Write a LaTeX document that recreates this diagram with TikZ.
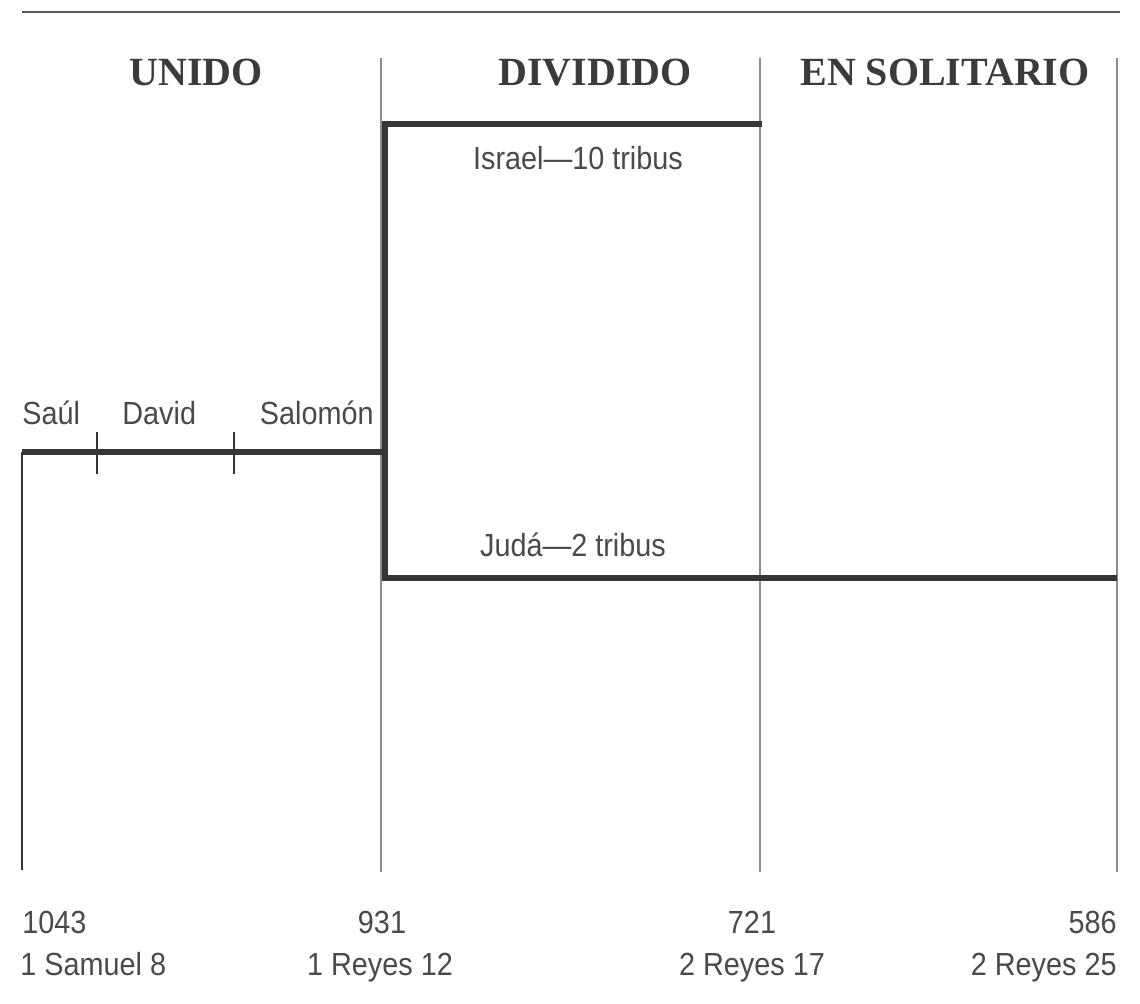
\documentclass[tikz,border=0pt]{standalone}
\usepackage{fontspec}
\setmainfont{Liberation Serif}
\setsansfont{Liberation Sans}[FakeStretch=0.9]

\definecolor{TitleGray}{HTML}{3b3b3b}
\definecolor{LabelGray}{HTML}{4a4a4a}
\definecolor{LineDark}{HTML}{363636}
\definecolor{DividerGray}{HTML}{8c8c8c}
\definecolor{RuleGray}{HTML}{5a5a5a}

\tikzstyle{era-title}=[font=\fontsize{20}{24}\selectfont\bfseries, text=TitleGray, inner sep=0pt]
\tikzstyle{reign-label}=[font=\sffamily\fontsize{16}{19}\selectfont, text=LabelGray, inner sep=0pt]
\tikzstyle{kingdom-line}=[draw=LineDark, line width=3pt]
\tikzstyle{era-divider}=[draw=DividerGray, line width=0.7pt]

\begin{document}
\begin{tikzpicture}[x=0.5pt, y=-0.5pt]
      \useasboundingbox (0,0) rectangle (1140,1004);
      \fill[white] (0,0) rectangle (1140,1004);

      % rule and era dividers
      \coordinate (rule-left) at (22, 12);
      \coordinate (rule-right) at (1120, 12);
      \coordinate (div-931-top) at (381, 58);
      \coordinate (div-931-bot) at (381, 872);
      \coordinate (div-721-top) at (760, 58);
      \coordinate (div-721-bot) at (760, 872);
      \coordinate (div-586-top) at (1117, 58);
      \coordinate (div-586-bot) at (1117, 872);
      \coordinate (div-1043-top) at (22, 452);
      \coordinate (div-1043-bot) at (22, 870);

      \draw[draw=RuleGray, line width=1.4pt] (rule-left) -- (rule-right);
      \draw[era-divider] (div-931-top) -- (div-931-bot);
      \draw[era-divider] (div-721-top) -- (div-721-bot);
      \draw[era-divider] (div-586-top) -- (div-586-bot);
      \draw[draw=LineDark, line width=1.1pt] (div-1043-top) -- (div-1043-bot);

      % kingdom lines
      \coordinate (unido-start) at (22, 452);
      \coordinate (split-mid) at (385, 452);
      \coordinate (split-top) at (385, 124);
      \coordinate (split-bot) at (385, 578);
      \coordinate (israel-end) at (762, 124);
      \coordinate (juda-end) at (1117, 578);

      \draw[kingdom-line] (unido-start) -- (split-mid);
      \draw[kingdom-line] (israel-end) -- (split-top) -- (split-bot) -- (juda-end);

      \coordinate (tick-david-top) at (97, 432);
      \coordinate (tick-david-bot) at (97, 474);
      \coordinate (tick-salomon-top) at (234, 432);
      \coordinate (tick-salomon-bot) at (234, 474);
      \draw[draw=LineDark, line width=0.8pt] (tick-david-top) -- (tick-david-bot);
      \draw[draw=LineDark, line width=0.8pt] (tick-salomon-top) -- (tick-salomon-bot);

      % era titles
      \node (title-unido) at (196, 86)
            [era-title, anchor=base] {UNIDO};
      \node (title-dividido) at (595, 86)
            [era-title, anchor=base] {DIVIDIDO};
      \node (title-solitario) at (945, 86)
            [era-title, anchor=base] {EN SOLITARIO};

      % kings and kingdoms
      \node (king-saul) at (22, 425)
            [reign-label, anchor=base west] {Saúl};
      \node (king-david) at (122, 425)
            [reign-label, anchor=base west] {David};
      \node (king-salomon) at (374, 425)
            [reign-label, anchor=base east] {Salomón};
      \node (kingdom-israel) at (578, 170)
            [reign-label, anchor=base] {Israel—10 tribus};
      \node (kingdom-juda) at (573, 557)
            [reign-label, anchor=base] {Judá—2 tribus};

      % dates and references
      \node (date-1043) at (22, 933)
            [reign-label, anchor=base west] {1043};
      \node (ref-1043) at (20, 975)
            [reign-label, anchor=base west] {1 Samuel 8};
      \node (date-931) at (382, 933)
            [reign-label, anchor=base] {931};
      \node (ref-931) at (380, 975)
            [reign-label, anchor=base] {1 Reyes 12};
      \node (date-721) at (752, 933)
            [reign-label, anchor=base] {721};
      \node (ref-721) at (752, 975)
            [reign-label, anchor=base] {2 Reyes 17};
      \node (date-586) at (1117, 933)
            [reign-label, anchor=base east] {586};
      \node (ref-586) at (1117, 975)
            [reign-label, anchor=base east] {2 Reyes 25};
\end{tikzpicture}
\end{document}
